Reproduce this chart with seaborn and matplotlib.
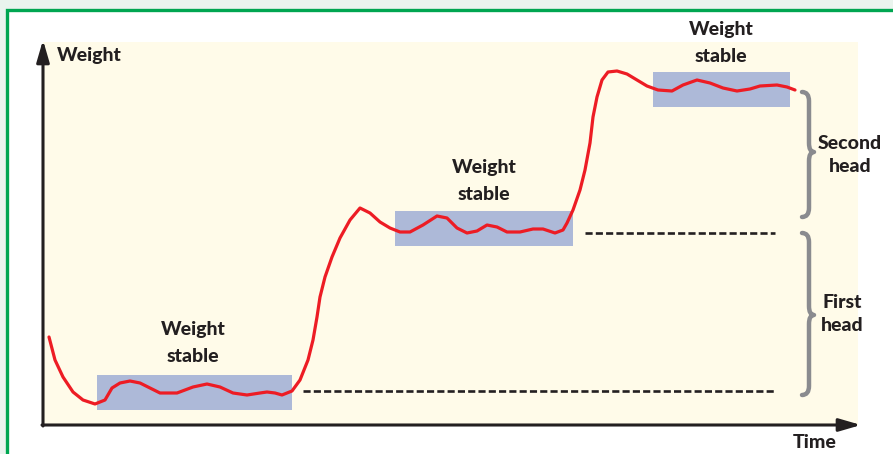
import matplotlib
matplotlib.use("Agg")
from matplotlib import pyplot as plt
from matplotlib.patches import Rectangle, PathPatch
from matplotlib.path import Path
import numpy as np
import pandas as pd
import seaborn as sns

# --- curve (time, weight) ---
time = [6, 12, 20, 30, 40, 52, 62, 69, 77, 87, 97, 107, 117, 134, 150, 164, 177,
        190, 204, 217, 224, 232, 239, 249, 257, 265, 270, 274, 277, 282, 289, 297,
        307, 317, 327, 337, 347, 357, 367, 380, 394, 404, 414, 424, 434, 444, 454,
        464, 477, 490, 500, 512, 520, 524, 530, 537, 542, 547, 550, 554, 559, 565,
        574, 584, 594, 604, 615, 629, 640, 654, 667, 680, 694, 707, 717, 734, 744, 752]
weight = [88, 65, 48, 33, 25, 21, 25, 37, 42, 44, 42, 37, 32, 32, 38, 41, 38,
          32, 30, 32, 33, 32, 30, 34, 45, 65, 85, 108, 128, 148, 168, 187,
          205, 217, 212, 203, 197, 193, 193, 200, 209, 207, 197, 192, 194, 200, 198,
          193, 193, 196, 196, 192, 195, 202, 215, 235, 255, 282, 308, 328, 345, 353,
          354, 351, 345, 339, 335, 334, 340, 345, 342, 337, 334, 336, 339, 340, 338, 335]

# plateaus ("weight stable" boxes)
box_start = [54, 352, 610]
box_end = [249, 530, 747]
box_low = [15, 179, 318]
box_high = [50, 214, 353]
box_label_t = [150, 441, 678]
box_label_w = [95, 258, 395]

# dashed reference levels
level_w = [34, 192]
level_start = [260, 542]
level_end = [732, 732]

# braces: (top, bottom, tip) and labels
brace_top = [333, 192]
brace_bottom = [208, 30]
brace_mid = [273, 110]
brace_labels = ["Second\nhead", "First\nhead"]
brace_label_t = [807, 799]
brace_label_w = [270, 111]

RED = "#ed1c24"
BLUE = "#adb9d8"
INK = "#231f20"
GREY = "#8a8b8f"

sns.set_theme(style="white")
plt.rcParams["font.family"] = ["Lato", "DejaVu Sans"]

W, H = 893, 454
fig = plt.figure(figsize=(W / 100, H / 100), dpi=100)
fig.patch.set_facecolor("#eaf4ee")

# white card with green frame (runs off right/bottom)
fig.add_artist(Rectangle((7 / W, -0.1), 1.2, (H - 10) / H + 0.1, transform=fig.transFigure,
                         facecolor="white", edgecolor="#00a651", lw=2.4, zorder=0))

ax = fig.add_axes([43 / W, (H - 425) / H, 815 / W, 383 / H])
ax.set_facecolor("#fffbe9")
ax.set_xlim(0, 815)
ax.set_ylim(0, 383)
for s in ax.spines.values():
    s.set_visible(False)
ax.set_xticks([])
ax.set_yticks([])

# boxes
for x0, x1, y0, y1 in zip(box_start, box_end, box_low, box_high):
    ax.add_patch(Rectangle((x0, y0), x1 - x0, y1 - y0, facecolor=BLUE, edgecolor="none", zorder=1))

# dashed levels
for y, x0, x1 in zip(level_w, level_start, level_end):
    ax.plot([x0, x1], [y, y], color=INK, lw=1.9, ls=(0, (2.7, 1.2)), zorder=2)

df = pd.DataFrame({"time": time, "weight": weight})
sns.lineplot(data=df, x="time", y="weight", sort=False, estimator=None, color=RED, lw=2.3,
             solid_joinstyle="round", solid_capstyle="round", ax=ax, zorder=3)
ax.set_xlabel("")
ax.set_ylabel("")

# axes with arrows
arrow = dict(arrowstyle="-|>,head_length=1.1,head_width=0.32", lw=2.2, color=INK, shrinkA=0, shrinkB=0)
ax.annotate("", xy=(0, 385), xytext=(0, -1), arrowprops=arrow, annotation_clip=False)
ax.annotate("", xy=(818, 0), xytext=(-1, 0), arrowprops=arrow, annotation_clip=False)

txt = dict(color=INK, fontsize=14, fontweight="black", clip_on=False)
ax.text(14, 370, "Weight", ha="left", va="center", **txt)
ax.text(772, -17, "Time", ha="center", va="center", **txt)
for t, w in zip(box_label_t, box_label_w):
    ax.text(t, w, "Weight", ha="center", va="center", **txt)
    ax.text(t, w - 27, "stable", ha="center", va="center", **txt)


def brace(top, bottom, mid, x_end=759, x_spine=766, x_tip=771, r=9):
    verts = [(x_end, top), (x_spine, top), (x_spine, top - r),
             (x_spine, mid + r), (x_spine, mid), (x_tip, mid),
             (x_spine, mid), (x_spine, mid - r),
             (x_spine, bottom + r), (x_spine, bottom), (x_end, bottom)]
    codes = [Path.MOVETO, Path.CURVE3, Path.CURVE3,
             Path.LINETO, Path.CURVE3, Path.CURVE3,
             Path.CURVE3, Path.CURVE3,
             Path.LINETO, Path.CURVE3, Path.CURVE3]
    ax.add_patch(PathPatch(Path(verts, codes), fill=False, edgecolor=GREY, lw=3.2,
                           capstyle="round", joinstyle="round", clip_on=False, zorder=2))


for top, bot, mid, lab, t, w in zip(brace_top, brace_bottom, brace_mid, brace_labels,
                                    brace_label_t, brace_label_w):
    brace(top, bot, mid)
    ax.text(t, w, lab, ha="center", va="center", linespacing=1.45, **txt)

fig.savefig("out.png", dpi=100)
